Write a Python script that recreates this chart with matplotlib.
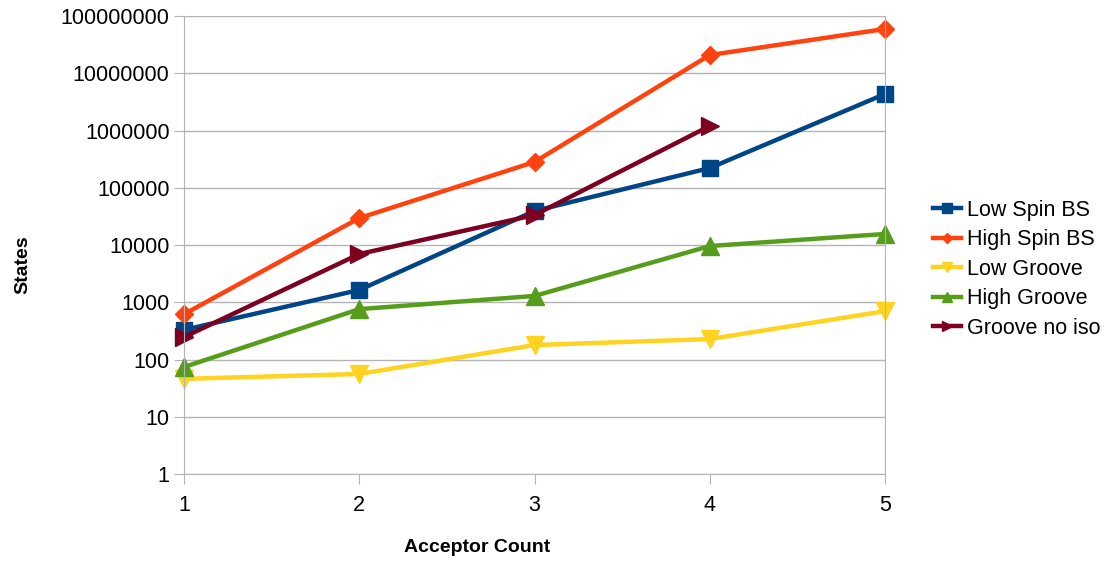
import matplotlib
matplotlib.use('Agg')
import matplotlib.pyplot as plt

plt.rcParams['font.family'] = ['Liberation Sans', 'DejaVu Sans']

acceptors = [1, 2, 3, 4, 5]
low_spin_bs = [330, 1640, 39300, 221000, 4340000]
high_spin_bs = [620, 29600, 282000, 20800000, 59300000]
low_groove = [46, 56, 179, 228, 700]
high_groove = [74, 760, 1290, 9600, 15600]
groove_no_iso = [247, 6960, 33400, 1200000]

fig = plt.figure(figsize=(11.09, 5.61), dpi=100)
ax = fig.add_axes([0.166, 0.155, 0.632, 0.8165])

lw = 3.2
ax.plot(acceptors, low_spin_bs, color='#004586', lw=lw, marker='s', ms=12, label='Low Spin BS', clip_on=False)
ax.plot(acceptors, high_spin_bs, color='#ff420e', lw=lw, marker='D', ms=9, label='High Spin BS', clip_on=False)
ax.plot(acceptors, low_groove, color='#ffd320', lw=lw, marker='v', ms=13, label='Low Groove', clip_on=False)
ax.plot(acceptors, high_groove, color='#579d1c', lw=lw, marker='^', ms=13, label='High Groove', clip_on=False)
ax.plot(acceptors[:4], groove_no_iso, color='#7e0021', lw=lw, marker='>', ms=13, label='Groove no iso', clip_on=False)

ax.set_yscale('log')
ax.set_ylim(1, 1e8)
ax.set_xlim(1, 5)
ax.set_xticks(acceptors)
ax.set_yticks([10 ** i for i in range(9)])
ax.set_yticklabels([str(10 ** i) for i in range(9)])
ax.minorticks_off()
ax.yaxis.grid(True, color='#b3b3b3', lw=1)
ax.set_axisbelow(True)
for s in ax.spines.values():
    s.set_color('#b3b3b3')
ax.spines['top'].set_visible(False)
ax.tick_params(colors='#b3b3b3', labelcolor='black', labelsize=15.5, length=7)
ax.tick_params(axis='x', pad=8)

ax.set_xlabel('Acceptor Count', fontsize=14, fontweight='bold')
ax.xaxis.set_label_coords(0.418, -0.142)
ax.set_ylabel('States', fontsize=14, fontweight='bold')
ax.yaxis.set_label_coords(-0.218, 0.457)

fig.legend(loc='center left', bbox_to_anchor=(0.841, 0.52), frameon=False, fontsize=15.5,
           borderaxespad=0, borderpad=0,
           handlelength=1.3, handletextpad=0.3, labelspacing=0.4, markerscale=0.6)

plt.savefig('out.png')
